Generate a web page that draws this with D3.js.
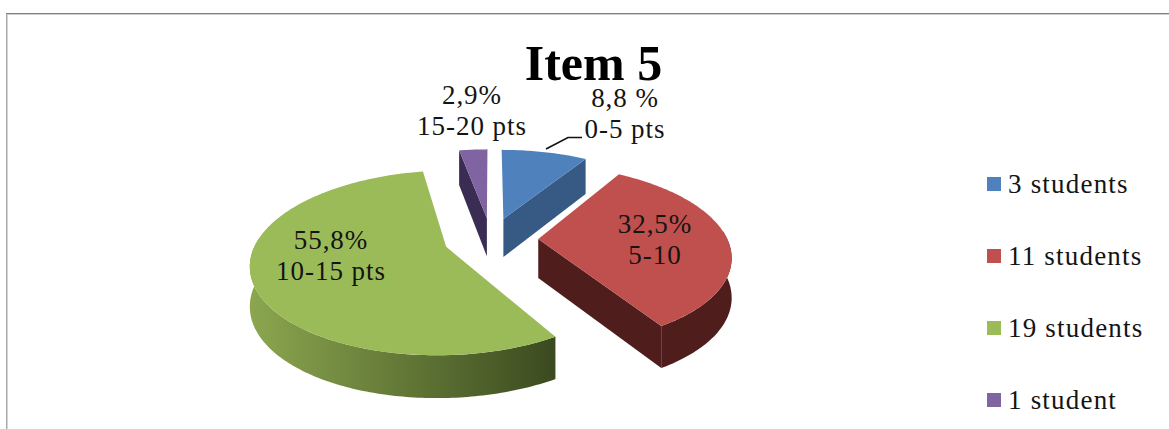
<!DOCTYPE html>
<html><head><meta charset="utf-8">
<script src="https://cdn.jsdelivr.net/npm/d3@7"></script>
<style>html,body{margin:0;padding:0;background:#fff}svg{display:block}text{font-family:"Liberation Serif",serif}</style>
</head><body><svg id="c" width="1169" height="429"></svg>
<script>
const title = "Item 5";
const percents = [8.8, 32.5, 55.8, 2.9];
const legendLabels = ["3 students", "11 students", "19 students", "1 student"];
const valueLabels = ["8,8 %", "32,5%", "55,8%", "2,9%"];
const rangeLabels = ["0-5 pts", "5-10", "10-15 pts", "15-20 pts"];
const topColors = ["#4f81bd", "#c0504d", "#9bbb59", "#8064a2"];
const wallColors = ["#375a85", "#4e1d1c", "url(#greenWall)", "#3a2c52"];

// layout
const W = 1169, H = 429;
const cx = 491, cy = 239, B = 189, A = 87, p = 0.17, explode = 0.25;
const labelCenters = [[625,107],[655,233],[331,249],[472,104]];

const svg = d3.select("#c");
const defs = svg.append("defs");
const g = defs.append("linearGradient").attr("id","greenWall").attr("gradientUnits","userSpaceOnUse")
  .attr("x1",251).attr("x2",555).attr("y1",0).attr("y2",0);
g.append("stop").attr("offset",0).attr("stop-color","#8ba64f");
g.append("stop").attr("offset",1).attr("stop-color","#3b4a1f");

// frame
svg.append("line").attr("x1",6).attr("x2",W).attr("y1",13.5).attr("y2",13.5).attr("stroke","#808080");
svg.append("line").attr("x1",6).attr("x2",W).attr("y1",14.5).attr("y2",14.5).attr("stroke","#cfcfcf");
svg.append("line").attr("x1",6.5).attr("x2",6.5).attr("y1",14).attr("y2",H).attr("stroke","#a8a8a8");
svg.append("line").attr("x1",7.5).attr("x2",7.5).attr("y1",15).attr("y2",H).attr("stroke","#d4d4d4");

const slices = d3.pie().sort(null).startAngle(0).endAngle(2*Math.PI)(percents);
// perspective projection of a point on the pie's plane (y>0 is the far side)
const project = (x, y) => {
  const w = 1 + p*y;
  return [cx + B*x/w, cy - A*y/w];
};
const line = d3.line().curve(d3.curveLinear);
const arcSamples = (a,b) => { const n = Math.max(2,Math.ceil((b-a)*60)); return d3.range(n+1).map(i => a+(b-a)*i/n); };

[3,0,1,2].forEach(i => {
  const s = slices[i], mid = (s.startAngle+s.endAngle)/2;
  const ox = explode*Math.sin(mid), oy = explode*Math.cos(mid);
  const rimY = t => oy + Math.cos(t);
  const P = t => project(ox+Math.sin(t), rimY(t));
  const drop = y => 39 - 3.5*y;
  const down = (pt,y) => [pt[0], pt[1]+drop(y)];
  const layer = svg.append("g").attr("class","slice");
  const apex = project(ox,oy), apexDown = down(apex,oy);
  const wall = wallColors[i];
  // cut walls facing the viewer
  if (Math.sin(s.startAngle) < -1e-6) {
    const e = P(s.startAngle);
    layer.append("path").attr("d", line([apex,e,down(e,rimY(s.startAngle)),apexDown])+"Z").attr("fill",wall);
  }
  if (Math.sin(s.endAngle) > 1e-6) {
    const e = P(s.endAngle);
    layer.append("path").attr("d", line([apex,e,down(e,rimY(s.endAngle)),apexDown])+"Z").attr("fill",wall);
  }
  // outer wall on the front half
  const a = Math.max(s.startAngle, Math.PI/2 - 0.1), b = Math.min(s.endAngle, 3*Math.PI/2 + 0.1);
  if (b > a) {
    const ts = arcSamples(a,b);
    const tp = ts.map(P), bt = ts.map(t => down(P(t),rimY(t))).reverse();
    layer.append("path").attr("d", line(tp.concat(bt))+"Z").attr("fill",wall);
  }
  // top face
  const ring = arcSamples(s.startAngle,s.endAngle).map(P);
  layer.append("path").attr("d", line([apex].concat(ring))+"Z").attr("fill",topColors[i]);
});

// leader line for the first label
svg.append("path").attr("d",d3.line()([[546,149],[568,137.5],[582,137.5]]))
  .attr("fill","none").attr("stroke","#111").attr("stroke-width",1.6);

// title
svg.append("text").attr("x",593.5).attr("y",80).attr("text-anchor","middle")
  .attr("font-size",50).attr("font-weight","bold").attr("fill","#000").text(title);

// data labels
const lbl = svg.append("g").attr("font-size",27).attr("letter-spacing",0.95).attr("fill","#141414").attr("text-anchor","middle");
valueLabels.forEach((t,i) => {
  const [x,y] = labelCenters[i];
  lbl.append("text").attr("x",x).attr("y",y).text(t);
  lbl.append("text").attr("x",x).attr("y",y+30.5).text(rangeLabels[i]);
});

// legend
const legendY = d3.scalePoint().domain(d3.range(legendLabels.length)).range([184,400]);
const lg = svg.append("g");
legendLabels.forEach((t,i) => {
  lg.append("rect").attr("x",987).attr("y",legendY(i)-7).attr("width",14).attr("height",14).attr("fill",topColors[i]);
  lg.append("text").attr("x",1008).attr("y",legendY(i)+9).attr("font-size",27).attr("letter-spacing",1.2).attr("fill","#141414").text(t);
});
</script></body></html>
